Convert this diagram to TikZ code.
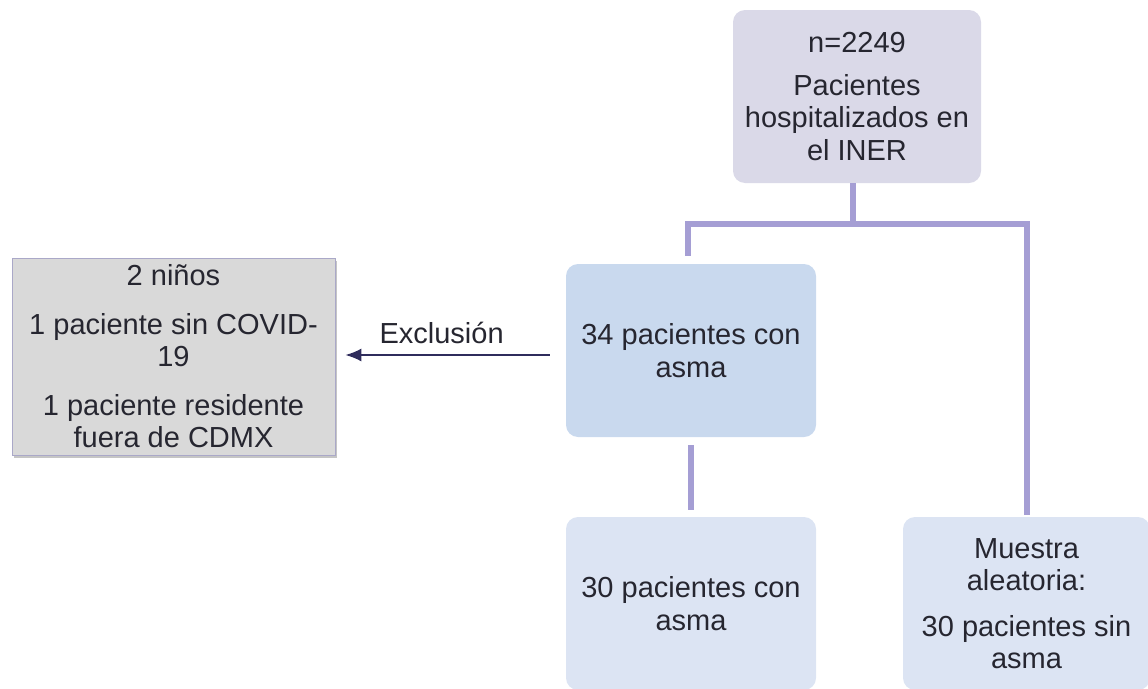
\documentclass[tikz,border=0pt]{standalone}
\usepackage{fontspec}
\setmainfont{Liberation Sans}
\usetikzlibrary{arrows.meta,calc,shadows}
\definecolor{topfill}{RGB}{218,217,232}
\definecolor{midfill}{RGB}{201,217,238}
\definecolor{lowfill}{RGB}{220,228,243}
\definecolor{grayfill}{RGB}{217,217,217}
\definecolor{connc}{RGB}{165,158,212}
\definecolor{arrc}{RGB}{47,44,92}
\definecolor{txtc}{RGB}{38,38,48}
\definecolor{grayborder}{RGB}{170,168,200}
\tikzset{
  boxbase/.style={rounded corners=12pt, align=center, inner sep=2pt,
    font=\fontsize{29}{32.5}\selectfont, text=txtc},
  topbox/.style={boxbase, fill=topfill, minimum width=248pt, minimum height=173pt},
  midbox/.style={boxbase, fill=midfill, minimum width=250pt, minimum height=173pt},
  lowbox/.style={boxbase, fill=lowfill, minimum width=250pt, minimum height=173pt},
  graybox/.style={boxbase, rounded corners=0pt, fill=grayfill, draw=grayborder, line width=0.8pt,
    minimum width=323pt, minimum height=197pt,
    drop shadow={shadow xshift=2pt, shadow yshift=-3pt, fill=black!45, opacity=0.5}},
  conn/.style={draw=connc, line width=6pt, line join=miter},
  arr/.style={draw=arrc, line width=1.6pt, -{Latex[length=16pt,width=13pt]}},
  lbl/.style={font=\fontsize{29}{32.5}\selectfont, text=txtc, inner sep=0pt}
}
\begin{document}
\begin{tikzpicture}[x=1pt,y=1pt]
\useasboundingbox (0,0) rectangle (1148,-688);
\node[topbox] (top) at (857,-96.5) {n=2249\\[10pt]Pacientes\\hospitalizados en\\el INER};
\node[midbox] (m34) at (691,-350.5) {34 pacientes con\\asma};
\node[lowbox] (m30) at (691,-603.5) {30 pacientes con\\asma};
\node[lowbox, minimum width=247pt] (rs) at (1026.5,-603.5) {Muestra\\aleatoria:\\[13pt]30 pacientes sin\\asma};
\node[graybox] (ex) at (173.5,-356.5) {2 niños\\[16pt]1 paciente sin COVID-\\19\\[16pt]1 paciente residente\\fuera de CDMX};
% connectors
\coordinate (j) at ($(top.south)+(-4,-41)$);
\coordinate (ltop) at ($(m34.north)+(-3,8)$);
\coordinate (rtop) at ($(rs.north)+(0.5,2)$);
\draw[conn] (top.south -| j) -- (j);
\draw[conn] (ltop) |- (j) -| (rtop);
\draw[conn] ($(m34.south)+(0,-8)$) -- ($(m30.north)+(0,7)$);
% exclusion arrow
\coordinate (exs) at ($(m34.west)+(-16,-4.5)$);
\draw[arr] (exs) -- ($(exs -| ex.east)+(10,0)$) node[lbl, midway, above=10pt, xshift=-6pt] (exl) {Exclusión};
\end{tikzpicture}
\end{document}
